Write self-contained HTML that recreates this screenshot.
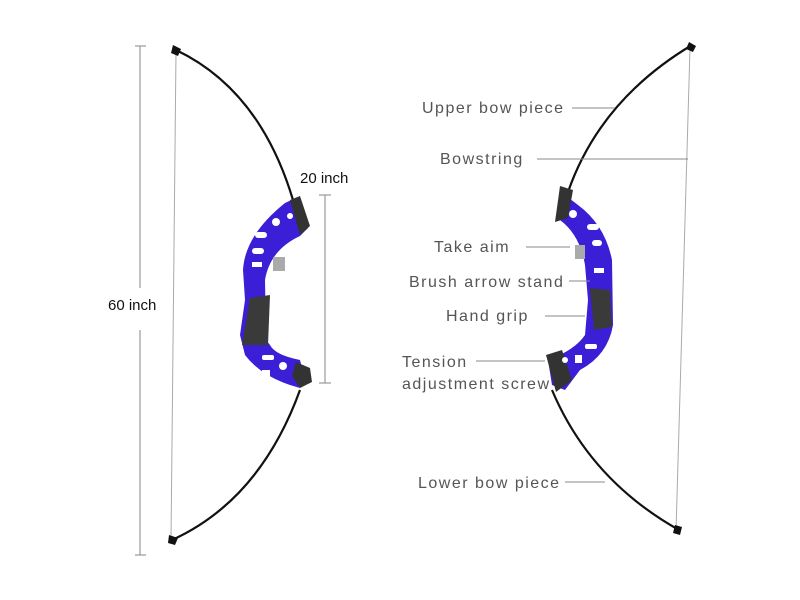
<!DOCTYPE html>
<html><head><meta charset="utf-8"><style>
html,body{margin:0;padding:0;background:#fff;width:800px;height:600px;overflow:hidden}
svg{display:block}
.l{font-family:"Liberation Sans",sans-serif;font-size:16px;fill:#555;letter-spacing:1.5px}
.b{font-family:"Liberation Sans",sans-serif;font-size:15px;fill:#111}
</style></head><body>
<svg width="800" height="600" viewBox="0 0 800 600">
<g stroke="#999" stroke-width="1.2" fill="none">
<line x1="140" y1="46" x2="140" y2="288"/><line x1="140" y1="330" x2="140" y2="555"/>
<line x1="135" y1="46" x2="146" y2="46"/><line x1="135" y1="555" x2="146" y2="555"/>
<line x1="325" y1="195" x2="325" y2="383"/>
<line x1="319" y1="195" x2="331" y2="195"/><line x1="319" y1="383" x2="331" y2="383"/>
</g>
<text class="b" x="108" y="310">60 inch</text>
<text class="b" x="300" y="183">20 inch</text>
<line x1="176" y1="52" x2="171" y2="541" stroke="#aaa" stroke-width="1"/>
<path d="M176 50 Q260 90 293 200" stroke="#111" stroke-width="2.2" fill="none"/>
<path d="M300 390 Q260 500 172 540" stroke="#111" stroke-width="2.2" fill="none"/>
<path d="M173 45 l8 4 -3 7 -7 -3z M169 535 l9 3 -3 7 -7 -2z" fill="#111"/>
<path d="M285 203 L298 197 L308 228 L300 236 Q270 250 265 280 L266 340 L270 345 Q275 355 300 360 L305 380 L300 388 L290 385 Q260 375 245 355 L240 335 L245 300 L243 270 Q245 235 285 203Z" fill="#3a1fd6"/>
<path d="M290 200 L300 196 L310 226 L300 235 Z" fill="#333"/>
<path d="M296 362 L310 368 L312 382 L300 388 L292 376 Z" fill="#333"/>
<path d="M250 298 L270 295 L268 345 L242 345 Z" fill="#3a3a3a"/>
<rect x="273" y="257" width="12" height="14" fill="#aaa"/>
<g fill="#fff"><rect x="255" y="232" width="12" height="6" rx="3"/><rect x="252" y="248" width="12" height="6" rx="3"/><rect x="252" y="262" width="10" height="5"/><circle cx="276" cy="222" r="4"/><circle cx="290" cy="216" r="3"/><rect x="262" y="355" width="12" height="5" rx="2"/><circle cx="283" cy="366" r="4"/><rect x="262" y="370" width="8" height="6"/></g>
<line x1="690" y1="48" x2="676" y2="531" stroke="#aaa" stroke-width="1"/>
<path d="M692 45 Q600 100 568 192" stroke="#111" stroke-width="2.2" fill="none"/>
<path d="M552 390 Q590 480 679 530" stroke="#111" stroke-width="2.2" fill="none"/>
<path d="M689 42 l7 4 -3 6 -7 -3z M675 525 l7 2 -2 8 -7 -2z" fill="#111"/>
<path d="M565 195 L578 205 Q605 225 612 260 L613 325 Q608 355 580 370 L565 390 L552 385 L548 360 Q575 350 585 335 L588 300 L585 265 Q580 235 560 220 Z" fill="#3a1fd6"/>
<path d="M560 186 L573 190 L568 218 L555 222 Z" fill="#333"/>
<path d="M546 355 L562 350 L572 380 L556 392 Z" fill="#333"/>
<path d="M590 288 L610 290 L612 327 L594 330 Z" fill="#3a3a3a"/>
<rect x="575" y="245" width="10" height="14" fill="#aaa"/>
<g fill="#fff"><circle cx="573" cy="214" r="4"/><rect x="587" y="224" width="12" height="6" rx="3"/><rect x="592" y="240" width="10" height="6" rx="3"/><rect x="594" y="268" width="10" height="5"/><rect x="585" y="344" width="12" height="5" rx="2"/><circle cx="565" cy="360" r="3"/><rect x="575" y="355" width="7" height="8"/></g>
<g stroke="#888" stroke-width="1">
<line x1="572" y1="108" x2="615" y2="108"/>
<line x1="537" y1="159" x2="688" y2="159"/>
<line x1="526" y1="247" x2="570" y2="247"/>
<line x1="569" y1="281" x2="590" y2="281"/>
<line x1="545" y1="316" x2="585" y2="316"/>
<line x1="476" y1="361" x2="545" y2="361"/>
<line x1="565" y1="482" x2="605" y2="482"/>
</g>
<text class="l" x="422" y="113">Upper bow piece</text>
<text class="l" x="440" y="164">Bowstring</text>
<text class="l" x="434" y="252">Take aim</text>
<text class="l" x="409" y="287">Brush arrow stand</text>
<text class="l" x="446" y="321">Hand grip</text>
<text class="l" x="402" y="367">Tension</text>
<text class="l" x="402" y="389">adjustment screw</text>
<text class="l" x="418" y="488">Lower bow piece</text>
</svg>
</body></html>
